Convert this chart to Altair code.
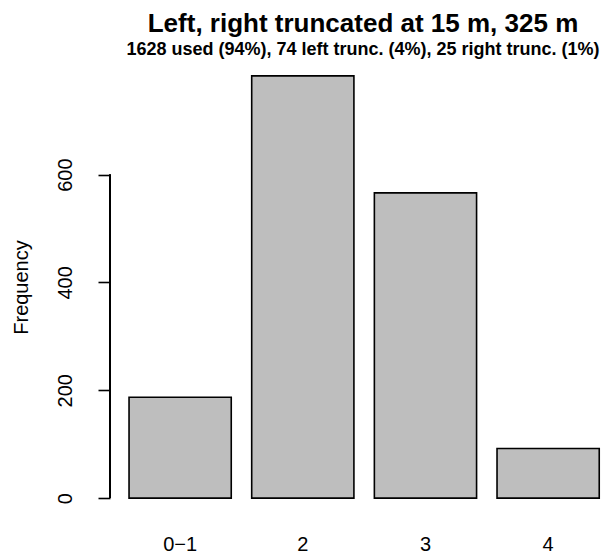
import altair as alt
import pandas as pd

categories = ["0\u22121", "2", "3", "4"]
counts = [187, 783, 566, 92]
y_ticks = [0, 200, 400, 600]
title_text = "Left, right truncated at 15 m, 325 m"
subtitle_text = "1628 used (94%), 74 left trunc. (4%), 25 right trunc. (1%)"

df = pd.DataFrame({"group": categories, "count": counts})
FONT = "Liberation Sans"

x_scale = alt.Scale(domain=categories, paddingInner=0.1667, paddingOuter=0.097, align=0.8)
y_scale = alt.Scale(domain=[-31.3, 814.3], nice=False, zero=False)

bars = alt.Chart(df).mark_bar(
    color="#BEBEBE", stroke="black", strokeWidth=1.6
).encode(
    x=alt.X("group:N", scale=x_scale, sort=categories,
            axis=alt.Axis(title=None, domain=False, ticks=False, tickSize=0,
                          labelAngle=0, labelFont=FONT, labelFontSize=20,
                          labelColor="black", labelPadding=35,
                          labelBaseline="alphabetic")),
    y=alt.Y("count:Q", scale=y_scale,
            axis=alt.Axis(title="Frequency", values=y_ticks, domain=False,
                          grid=False, tickSize=12, tickColor="black", tickWidth=1.6,
                          labelAngle=270, labelAlign="center",
                          labelBaseline="alphabetic", labelPadding=27,
                          labelFont=FONT, labelFontSize=20, labelColor="black",
                          titleFont=FONT, titleFontSize=20, titleFontWeight="normal",
                          titleColor="black", titleAngle=270, titleAlign="center",
                          titleBaseline="alphabetic", titleX=-83, titleY=228)),
    y2=alt.Y2(datum=0),
)

axis_line = alt.Chart(df).mark_rule(color="black", strokeWidth=1.6).encode(
    x=alt.value(0),
    y=alt.datum(y_ticks[0], scale=y_scale),
    y2=alt.datum(y_ticks[-1]),
)

chart = alt.layer(bars, axis_line).properties(
    width=494,
    height=456,
    padding={"left": 102, "top": 51, "right": 0, "bottom": 42},
    autosize=alt.AutoSizeParams(type="none"),
    title=alt.TitleParams(
        text=title_text, subtitle=subtitle_text,
        font=FONT, fontSize=26, fontWeight="bold", color="black",
        subtitleFont=FONT, subtitleFontSize=18, subtitleFontWeight="bold",
        subtitleColor="black", anchor="middle", frame="group", dx=6,
        offset=0, subtitlePadding=4,
    ),
).configure_view(stroke=None)

chart.save("out.html", embed_options={"renderer": "svg", "actions": False})
